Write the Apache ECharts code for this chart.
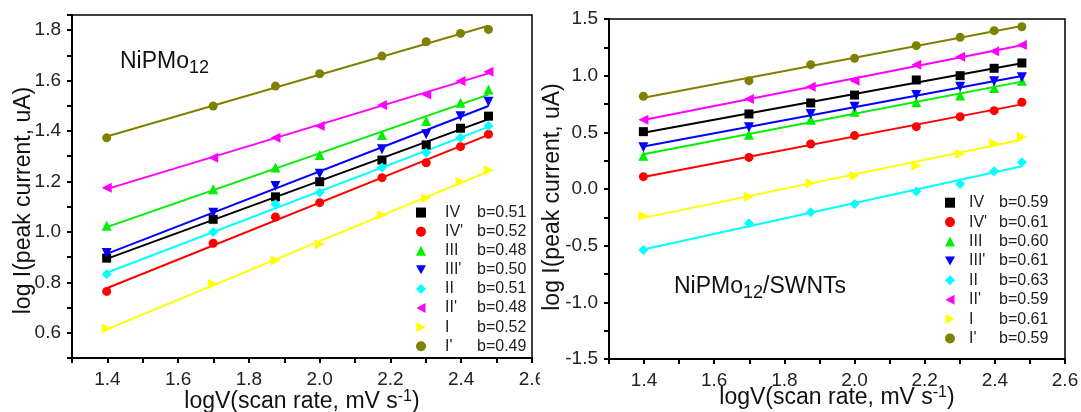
<!DOCTYPE html>
<html><head><meta charset="utf-8">
<script src="https://cdn.jsdelivr.net/npm/echarts@6/dist/echarts.min.js"></script>
<style>
html,body{margin:0;padding:0;background:#fff;}
#wrap{position:relative;width:1081px;height:412px;overflow:hidden;}
#c1{position:absolute;left:0;top:0;width:540px;height:412px;overflow:hidden;}
#c2{position:absolute;left:540px;top:0;width:541px;height:412px;overflow:hidden;}
</style></head>
<body><div id="wrap"><div id="c1"></div><div id="c2"></div></div>
<script>
// Data
const xLog = [1.398, 1.699, 1.875, 2.0, 2.176, 2.301, 2.398, 2.477];
const seriesNames = ['IV', "IV'", 'III', "III'", 'II', "II'", 'I', "I'"];
const leftB = ['0.51', '0.52', '0.48', '0.50', '0.51', '0.48', '0.52', '0.49'];
const rightB = ['0.59', '0.61', '0.60', '0.61', '0.63', '0.59', '0.61', '0.59'];

const leftIV   = [0.896, 1.050, 1.139, 1.199, 1.285, 1.345, 1.411, 1.459];
const leftIVp  = [0.764, 0.955, 1.059, 1.116, 1.215, 1.274, 1.338, 1.387];
const leftIII  = [1.024, 1.169, 1.255, 1.305, 1.384, 1.440, 1.512, 1.565];
const leftIIIp = [0.916, 1.076, 1.182, 1.231, 1.328, 1.387, 1.459, 1.516];
const leftII   = [0.832, 1.000, 1.110, 1.156, 1.255, 1.314, 1.373, 1.420];
const leftIIp  = [1.175, 1.294, 1.373, 1.420, 1.503, 1.545, 1.598, 1.635];
const leftI    = [0.617, 0.793, 0.888, 0.951, 1.067, 1.133, 1.199, 1.244];
const leftIp   = [1.373, 1.499, 1.578, 1.627, 1.697, 1.754, 1.787, 1.803];

const rightIV   = [0.506, 0.662, 0.759, 0.829, 0.962, 1.000, 1.065, 1.112];
const rightIVp  = [0.109, 0.279, 0.397, 0.471, 0.550, 0.638, 0.691, 0.765];
const rightIII  = [0.294, 0.479, 0.612, 0.682, 0.765, 0.824, 0.891, 0.956];
const rightIIIp = [0.368, 0.544, 0.662, 0.726, 0.829, 0.903, 0.950, 0.985];
const rightII   = [-0.538, -0.303, -0.206, -0.132, -0.021, 0.044, 0.156, 0.235];
const rightIIp  = [0.612, 0.794, 0.903, 0.956, 1.097, 1.168, 1.215, 1.271];
const rightI    = [-0.235, -0.068, 0.050, 0.118, 0.206, 0.309, 0.403, 0.462];
const rightIp   = [0.818, 0.956, 1.097, 1.153, 1.265, 1.338, 1.397, 1.432];

const leftValues = [leftIV, leftIVp, leftIII, leftIIIp, leftII, leftIIp, leftI, leftIp];
const rightValues = [rightIV, rightIVp, rightIII, rightIIIp, rightII, rightIIp, rightI, rightIp];

// Styles
const colors = ['#000000', '#ff0000', '#00ee00', '#0000ff', '#00ffff', '#ff00ff', '#ffff00', '#808000'];
const symbols = ['rect', 'circle', 'triangle', 'triangle', 'diamond', 'triangle', 'triangle', 'circle'];
const rotates = [0, 0, 0, 180, 0, 90, -90, 0];
const legendIcons = ['rect', 'circle', 'triangle', 'path://M0,0 L10,0 L5,9 Z', 'diamond',
  'path://M9,0 L9,10 L0,5 Z', 'path://M0,0 L9,5 L0,10 Z', 'circle'];
const sizes = [9, 9, 10, 10, 10, 10, 10, 9];
const FONT = 'Liberation Sans, Arial, sans-serif';

function fit(xs, ys) {
  const n = xs.length;
  let sx = 0, sy = 0, sxx = 0, sxy = 0;
  for (let i = 0; i < n; i++) { sx += xs[i]; sy += ys[i]; sxx += xs[i] * xs[i]; sxy += xs[i] * ys[i]; }
  const b = (n * sxy - sx * sy) / (n * sxx - sx * sx);
  const a = (sy - b * sx) / n;
  return [a, b];
}

function makeOption(cfg) {
  const series = [];
  cfg.values.forEach((vals, i) => {
    const [a, b] = fit(xLog, vals);
    const x0 = xLog[0], x1 = xLog[xLog.length - 1];
    series.push({
      type: 'line', data: [[x0, a + b * x0], [x1, a + b * x1]],
      showSymbol: false, symbol: 'none', silent: true,
      lineStyle: { color: colors[i], width: 2 }, z: 2
    });
  });
  cfg.values.forEach((vals, i) => {
    series.push({
      type: 'scatter', name: seriesNames[i],
      data: xLog.map((x, k) => [x, vals[k]]),
      symbol: symbols[i], symbolRotate: rotates[i], symbolSize: sizes[i],
      itemStyle: { color: colors[i], opacity: 1 }, z: 3
    });
  });
  return {
    animation: false,
    grid: { left: cfg.grid.left, top: cfg.grid.top, width: cfg.grid.width, height: cfg.grid.height,
            containLabel: false, outerBoundsMode: 'none',
            show: true, borderColor: '#000', borderWidth: 1.5, backgroundColor: 'transparent' },
    xAxis: {
      type: 'value', min: 1.3, max: 2.6, interval: 0.1,
      name: 'logV(scan rate, mV s{sup|-1})', nameLocation: 'middle', nameGap: cfg.xNameGap,
      nameMoveOverlap: false,
      nameTextStyle: { fontFamily: FONT, fontSize: 23, color: '#111',
        rich: { sup: { fontFamily: FONT, fontSize: 16, color: '#111', verticalAlign: 'top', padding: [0, 0, 10, 0] } } },
      axisLine: { show: true, onZero: false, lineStyle: { color: '#000', width: 2 } },
      axisTick: { show: true, inside: false, length: 5, lineStyle: { color: '#000', width: 2 } },
      axisLabel: { fontFamily: FONT, fontSize: 19, color: '#222', margin: 12,
        formatter: v => { const t = Math.round(v * 10); return (Math.abs(v * 10 - t) < 1e-6 && t % 2 === 0) ? (t / 10).toFixed(1) : ''; } },
      splitLine: { show: false }
    },
    yAxis: {
      type: 'value', min: cfg.yMin, max: cfg.yMax, interval: cfg.yInterval,
      name: 'log I(peak current, uA)', nameLocation: 'middle', nameGap: cfg.yNameGap,
      nameMoveOverlap: false,
      nameTextStyle: { fontFamily: FONT, fontSize: 23, color: '#111', padding: [0, cfg.yNameShift, 0, 0] },
      axisLine: { show: true, onZero: false, lineStyle: { color: '#000', width: 2 } },
      axisTick: { show: true, inside: false, length: 5, lineStyle: { color: '#000', width: 2 } },
      axisLabel: { fontFamily: FONT, fontSize: 19, color: '#222', margin: 11, formatter: cfg.yFmt },
      splitLine: { show: false }
    },
    legend: {
      orient: 'vertical', left: cfg.legend.left, top: cfg.legend.top, padding: 0,
      itemGap: 0, itemWidth: 10, itemHeight: 10,
      data: seriesNames.map((n, i) => ({ name: n, icon: legendIcons[i] })),
      formatter: name => '{n|' + name + '}{b|b=' + cfg.bVals[seriesNames.indexOf(name)] + '}',
      textStyle: { fontFamily: FONT, fontSize: 16, color: '#222', lineHeight: cfg.legend.lh,
        rich: {
          n: { fontFamily: FONT, fontSize: 16, color: '#222', width: cfg.legend.nw, padding: [0, 0, 0, cfg.legend.np], lineHeight: cfg.legend.lh },
          b: { fontFamily: FONT, fontSize: 16, color: '#222', lineHeight: cfg.legend.lh }
        } }
    },
    graphic: [{
      type: 'text', left: cfg.title.left, top: cfg.title.top,
      style: { text: cfg.title.text, fontFamily: FONT, fontSize: 23, fill: '#111',
        rich: { s: { fontFamily: FONT, fontSize: 18, fill: '#111', padding: [13, 0, 0, 0] } } }
    }],
    series: series
  };
}

const fmtLeft = v => { const t = Math.round(v * 10); return (Math.abs(v * 10 - t) < 1e-6 && t % 2 === 0) ? (t / 10).toFixed(1) : ''; };
const fmtRight = v => { const t = Math.round(v * 2); return (Math.abs(v * 2 - t) < 1e-6) ? (t / 2).toFixed(1) : ''; };

const ch1 = echarts.init(document.getElementById('c1'), null, { renderer: 'canvas' });
ch1.setOption(makeOption({
  values: leftValues, bVals: leftB,
  grid: { left: 72, top: 15, width: 460, height: 343 },
  yMin: 0.5, yMax: 1.86, yInterval: 0.1, yFmt: fmtLeft,
  xNameGap: 31, yNameGap: 37, yNameShift: 28,
  legend: { left: 416, top: 203, lh: 19.1, nw: 32, np: 14 },
  title: { left: 120, top: 50, text: 'NiPMo{s|12}' }
}));

const ch2 = echarts.init(document.getElementById('c2'), null, { renderer: 'canvas' });
ch2.setOption(makeOption({
  values: rightValues, bVals: rightB,
  grid: { left: 69, top: 19, width: 456, height: 340 },
  yMin: -1.5, yMax: 1.5, yInterval: 0.25, yFmt: fmtRight,
  xNameGap: 26, yNameGap: 45, yNameShift: 16,
  legend: { left: 405, top: 193, lh: 19.4, nw: 30, np: 9 },
  title: { left: 134, top: 275, text: 'NiPMo{s|12}/SWNTs' }
}));
</script>
</body></html>
